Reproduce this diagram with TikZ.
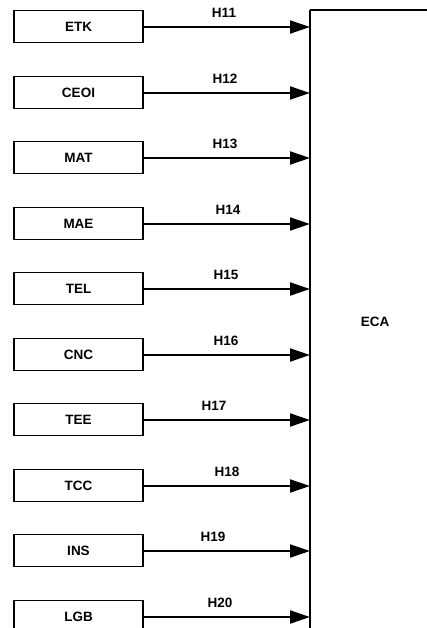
\documentclass[tikz,border=0pt]{standalone}
\usepackage{fontspec}
\setmainfont{Liberation Sans}
\usetikzlibrary{arrows.meta}
\begin{document}
\begin{tikzpicture}[x=1pt,y=-1pt,
  src/.style={draw,line width=1.8pt,minimum width=129pt,minimum height=32pt,inner sep=0pt,font=\fontsize{13.5}{15}\selectfont\bfseries},
  lbl/.style={font=\fontsize{13.5}{15}\selectfont\bfseries,inner sep=0pt},
  flow/.style={line width=2pt,-{Triangle[length=20pt,width=13pt]}}]
\useasboundingbox (0,0) rectangle (427,628);
\draw[line width=2pt] (310,10) -- (310,640);
\draw[line width=2pt] (310,10) -- (440,10);
\node[lbl] (eca) at (375,322) {ECA};
\foreach \i/\n/\h/\lx in {0/ETK/H11/224,1/CEOI/H12/225,2/MAT/H13/225,3/MAE/H14/228,4/TEL/H15/226,5/CNC/H16/226,6/TEE/H17/214,7/TCC/H18/227,8/INS/H19/213,9/LGB/H20/220}{
  \pgfmathsetmacro{\yy}{round(27+65.5*\i)}
  \node[src] (b\i) at (78.5,\yy-0.5) {\n};
  \coordinate (t\i) at (310,\yy);
  \draw[flow] (b\i.east |- t\i) -- (t\i);
  \node[lbl] (l\i) at (\lx,\yy-14) {\h};
}
\end{tikzpicture}
\end{document}
